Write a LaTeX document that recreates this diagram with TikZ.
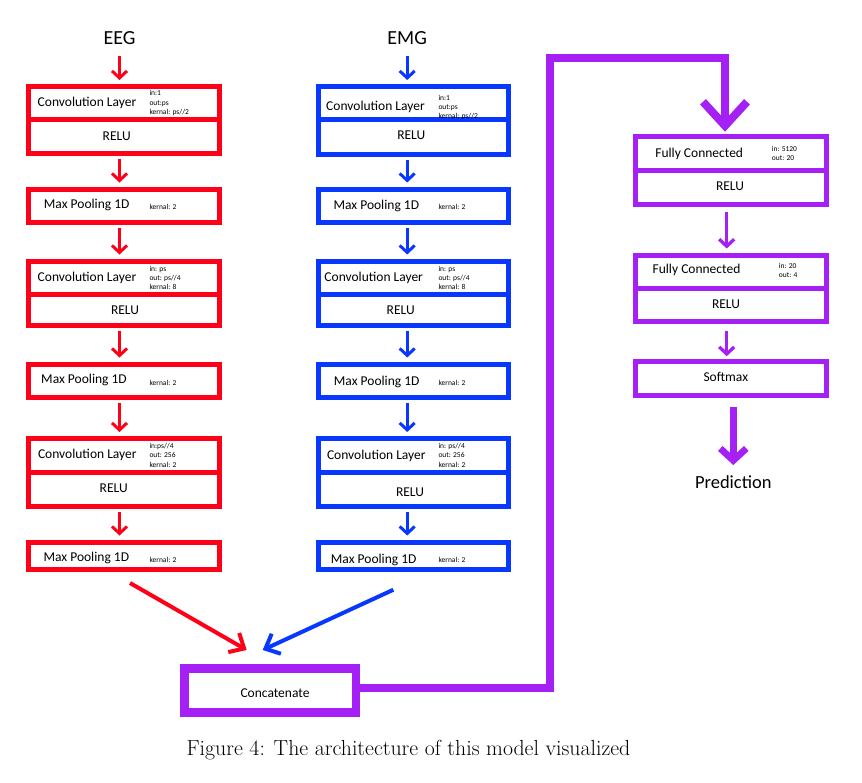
\documentclass[tikz,border=0pt]{standalone}
\usepackage{fontspec}
\newfontfamily\calfont{Carlito}
\usetikzlibrary{arrows.meta}
\definecolor{eegred}{RGB}{255,0,24}
\definecolor{emgblue}{RGB}{8,56,255}
\definecolor{fusepurple}{RGB}{165,32,245}
\begin{document}
\begin{tikzpicture}[x=1pt,y=-1pt,
  layer/.style={draw, line width=5pt, inner sep=0pt, minimum width=190.5pt, minimum height=#1},
  lbl/.style={font=\calfont\fontsize{13.5}{16}\selectfont, inner sep=0pt},
  spec/.style={font=\calfont\fontsize{7.5}{9.3}\selectfont, align=left, anchor=west, inner sep=0pt},
  head/.style={font=\calfont\fontsize{20}{24}\selectfont, inner sep=0pt},
  flow/.style={line width=3pt, -{Straight Barb[length=7pt,width=15pt]}, shorten <=3pt, shorten >=4pt},
]
\useasboundingbox[fill=white] (0,0) rectangle (862,782);

% ---------------- EEG branch ----------------
\begin{scope}[eegred]
\node[head] (eeg) at (119.5,38) {\color{black}EEG};
\node[layer=33] (rc1a) at (124,102.5) {};
\node[layer=34] (rc1b) at (124,136) {};
\node[layer=33.5] (rp1) at (124,205.75) {};
\node[layer=33] (rc2a) at (124,277.5) {};
\node[layer=31] (rc2b) at (124,309.5) {};
\node[layer=33.5] (rp2) at (124,380.75) {};
\node[layer=34] (rc3a) at (124,455.5) {};
\node[layer=33.5] (rc3b) at (124,489.25) {};
\node[layer=27.5] (rp3) at (124,555.75) {};
\draw[flow, shorten <=11pt, shorten >=3.5pt] (eeg.south) -- (rc1a.north -| eeg);
\draw[flow] (rc1b.south -| eeg) -- (rp1.north -| eeg);
\draw[flow] (rp1.south -| eeg) -- (rc2a.north -| eeg);
\draw[flow] (rc2b.south -| eeg) -- (rp2.north -| eeg);
\draw[flow] (rp2.south -| eeg) -- (rc3a.north -| eeg);
\draw[flow] (rc3b.south -| eeg) -- (rp3.north -| eeg);
\end{scope}
\node[lbl] (rc1t) at (87,103.3) {Convolution Layer};
\node[spec] (rc1s) at (149.3,103.3) {in:1\\out:ps\\kernal: ps//2};
\node[lbl] (rc1r) at (116.7,136) {RELU};
\node[lbl] (rp1t) at (86.7,205) {Max Pooling 1D};
\node[spec] (rp1s) at (149.3,207.3) {kernal: 2};
\node[lbl] (rc2t) at (87,278.3) {Convolution Layer};
\node[spec] (rc2s) at (149.3,277.8) {in: ps\\out: ps//4\\kernal: 8};
\node[lbl] (rc2r) at (125,310.7) {RELU};
\node[lbl] (rp2t) at (84,380) {Max Pooling 1D};
\node[spec] (rp2s) at (149.3,382.7) {kernal: 2};
\node[lbl] (rc3t) at (87.3,455) {Convolution Layer};
\node[spec] (rc3s) at (149.3,455.3) {in:ps//4\\out: 256\\kernal: 2};
\node[lbl] (rc3r) at (113.7,488.3) {RELU};
\node[lbl] (rp3t) at (86.3,558.3) {Max Pooling 1D};
\node[spec] (rp3s) at (149.3,560) {kernal: 2};

% ---------------- EMG branch ----------------
\begin{scope}[emgblue]
\node[head] (emg) at (407.2,38) {\color{black}EMG};
\node[layer=33] (bc1a) at (413.5,102.5) {};
\node[layer=35] (bc1b) at (413.5,136.5) {};
\node[layer=33.5] (bp1) at (413.5,205.75) {};
\node[layer=33] (bc2a) at (413.5,277.5) {};
\node[layer=31] (bc2b) at (413.5,309.5) {};
\node[layer=33.5] (bp2) at (413.5,380.75) {};
\node[layer=34] (bc3a) at (413.5,455.5) {};
\node[layer=33.5] (bc3b) at (413.5,489.25) {};
\node[layer=27.5] (bp3) at (413.5,555.75) {};
\draw[flow, shorten <=11pt, shorten >=3.5pt] (emg.south) -- (bc1a.north -| emg);
\draw[flow] (bc1b.south -| emg) -- (bp1.north -| emg);
\draw[flow] (bp1.south -| emg) -- (bc2a.north -| emg);
\draw[flow] (bc2b.south -| emg) -- (bp2.north -| emg);
\draw[flow] (bp2.south -| emg) -- (bc3a.north -| emg);
\draw[flow] (bc3b.south -| emg) -- (bp3.north -| emg);
\end{scope}
\node[lbl] (bc1t) at (375.5,107.3) {Convolution Layer};
\node[spec] (bc1s) at (438.3,107.7) {in:1\\out:ps\\kernal: ps//2};
\node[lbl] (bc1r) at (411.3,135) {RELU};
\node[lbl] (bp1t) at (376.3,206) {Max Pooling 1D};
\node[spec] (bp1s) at (438.3,207.3) {kernal: 2};
\node[lbl] (bc2t) at (373.7,278.3) {Convolution Layer};
\node[spec] (bc2s) at (438.3,277.8) {in: ps\\out: ps//4\\kernal: 8};
\node[lbl] (bc2r) at (400.7,310) {RELU};
\node[lbl] (bp2t) at (376.7,381.7) {Max Pooling 1D};
\node[spec] (bp2s) at (438.3,383.3) {kernal: 2};
\node[lbl] (bc3t) at (376.3,456) {Convolution Layer};
\node[spec] (bc3s) at (438.3,455.3) {in: ps//4\\out: 256\\kernal: 2};
\node[lbl] (bc3r) at (410,492.3) {RELU};
\node[lbl] (bp3t) at (373.7,560) {Max Pooling 1D};
\node[spec] (bp3s) at (438.3,560) {kernal: 2};

% ---------------- fusion and classifier ----------------
\begin{scope}[fusepurple]
\node[draw, line width=8.5pt, inner sep=0pt, minimum width=171.3pt, minimum height=44pt] (cat) at (270.35,690.5) {};
\node[layer=33.7] (f1a) at (731,153.65) {};
\node[layer=34] (f1b) at (731,187.5) {};
\node[layer=33] (f2a) at (731,271.5) {};
\node[layer=33.7] (f2b) at (731,304.85) {};
\node[layer=33.3] (soft) at (731,378.35) {};
\coordinate (turn) at (550,58);
\coordinate (fx) at (726.7,0);
\draw[line width=8pt, -{Straight Barb[length=24pt,width=44pt]}, shorten >=2.6pt]
  ([yshift=2.5pt]cat.east) -| (turn) -| ([xshift=-6pt]f1a.north);
\draw[line width=3.3pt, -{Straight Barb[length=7pt,width=15pt]}, shorten <=5pt, shorten >=4pt] (f1b.south -| fx) -- (f2a.north -| fx);
\draw[line width=3.3pt, -{Straight Barb[length=7pt,width=15pt]}, shorten <=7pt, shorten >=3pt] (f2b.south -| fx) -- (soft.north -| fx);
\end{scope}
\node[font=\calfont\fontsize{18.5}{22}\selectfont, inner sep=0pt] (pred) at (733.3,481.7) {Prediction};
\draw[fusepurple, line width=6.7pt, -{Straight Barb[length=12pt,width=26pt]}, shorten <=9.4pt, shorten >=10pt] (soft.south -| pred) -- (pred.north);

\draw[eegred, line width=4pt, -{Straight Barb[length=12pt,width=22pt]}] ([shift={(6,11)}]rp3.south) -- ([shift={(-23.65,-14.25)}]cat.north);
\draw[emgblue, line width=4pt, -{Straight Barb[length=12pt,width=22pt]}] ([shift={(-20.2,17.75)}]bp3.south) -- ([shift={(-7.65,-14.25)}]cat.north);

\node[lbl] (catt) at (275,693.3) {Concatenate};
\node[lbl] (f1t) at (699.2,154) {Fully Connected};
\node[spec] (f1s) at (771.7,153.7) {in: 5120\\out: 20};
\node[lbl] (f1r) at (730,186) {RELU};
\node[lbl] (f2t) at (696.5,270) {Fully Connected};
\node[spec] (f2s) at (778.7,270.3) {in: 20\\out: 4};
\node[lbl] (f2r) at (726,304.3) {RELU};
\node[lbl] (softt) at (725.8,377.3) {Softmax};

% caption
\node[font=\fontsize{21.8}{26}\selectfont, inner sep=0pt] (cap) at (408.5,750.5) {Figure 4: The architecture of this model visualized};
\end{tikzpicture}
\end{document}
